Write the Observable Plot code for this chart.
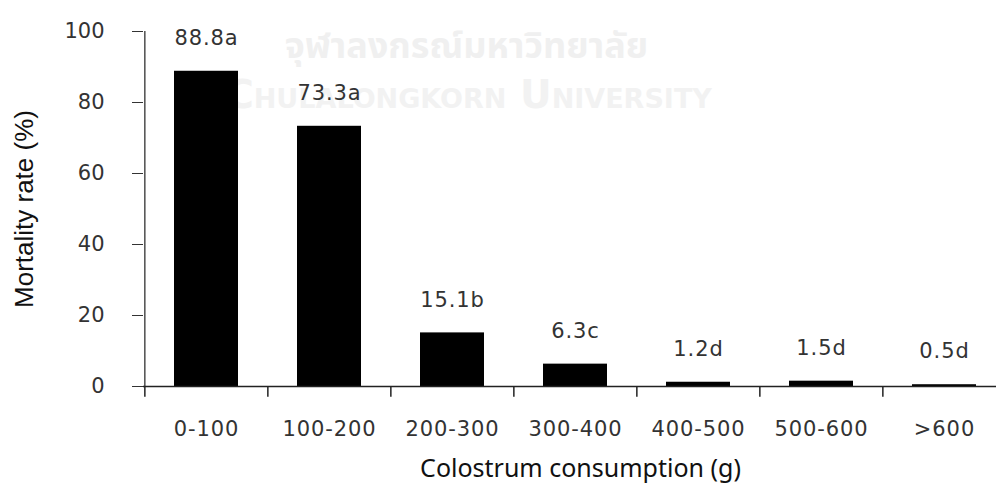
<!DOCTYPE html>
<html>
<head>
<meta charset="utf-8">
<script src="https://cdn.jsdelivr.net/npm/d3@7"></script>
<script src="https://cdn.jsdelivr.net/npm/@observablehq/plot@0.6"></script>
<style>
  html, body { margin: 0; padding: 0; background: #fff; }
  #chart { width: 996px; height: 495px; overflow: hidden; }
  .num text { letter-spacing: 0.9px; }
</style>
</head>
<body>
<div id="chart"></div>
<script>
const categories = ["0-100", "100-200", "200-300", "300-400", "400-500", "500-600", ">600"];
const mortality = [88.8, 73.3, 15.1, 6.3, 1.2, 1.5, 0.5];
const letters = ["a", "a", "b", "c", "d", "d", "d"];
const yTicks = [0, 20, 40, 60, 80, 100];
const xTitle = "Colostrum consumption (g)";
const yTitle = "Mortality rate (%)";
const watermark = ["จุฬาลงกรณ์มหาวิทยาลัย", "Chulalongkorn University"];

const data = categories.map((c, i) => ({cat: c, value: mortality[i], label: mortality[i].toFixed(1) + letters[i]}));

const W = 996, H = 495;
const mLeft = 143, xEnd = 1006;
const mTop = 31, yBase = 386;
const step = (xEnd - mLeft) / categories.length;
const textColor = "#333";
const numFont = "DejaVu Sans, Verdana, sans-serif";

const chart = Plot.plot({
  width: W,
  height: H,
  marginLeft: mLeft,
  marginRight: W - xEnd,
  marginTop: mTop,
  marginBottom: H - yBase,
  style: {background: "transparent", overflow: "visible"},
  x: {type: "band", domain: categories, range: [mLeft, xEnd], paddingInner: 0.48, paddingOuter: 0.24, align: 0.5},
  y: {domain: [0, 100], range: [yBase, mTop]},
  marks: [
    Plot.text([watermark[0]], {frameAnchor: "top-left", textAnchor: "middle", lineAnchor: "middle", dx: 466 - mLeft, dy: 46 - mTop, text: d => d, fontSize: 36, fontWeight: "bold", fill: "#f0f0f0", fontFamily: "Noto Sans Thai, Loma, Garuda, sans-serif"}),
    Plot.text([watermark[1]], {frameAnchor: "top-left", textAnchor: "middle", lineAnchor: "middle", dx: 468 - mLeft, dy: 95 - mTop, text: d => d, fontSize: 39, fontWeight: "bold", fontVariant: "small-caps", fill: "#f2f2f2", fontFamily: "DejaVu Sans, sans-serif"}),
    Plot.barY(data, {x: "cat", y: "value", fill: "#000"}),
    Plot.text(data, {x: "cat", y: "value", text: "label", dy: -33, fontSize: 21, fill: textColor, fontFamily: numFont, className: "num"}),
    Plot.axisY({ticks: yTicks, tickSize: 11, tickPadding: 28, fontSize: 21, fill: textColor, stroke: "#333", fontFamily: numFont, label: null}),
    Plot.axisX({tickSize: 0, tickPadding: 35, fontSize: 21, fill: textColor, fontFamily: numFont, label: null, className: "num"}),
    Plot.ruleX(categories, {x: d => d, dx: -step / 2, y1: 0, y2: -3, stroke: "#222", strokeWidth: 1.5}),
    Plot.ruleY([0], {stroke: "#222", strokeWidth: 1.5}),
    Plot.ruleX([categories[0]], {x: d => d, dx: -step / 2, stroke: "#222", strokeWidth: 1.2}),
    Plot.text([xTitle], {frameAnchor: "bottom", lineAnchor: "middle", dx: 580 - (mLeft + xEnd) / 2, dy: 468 - yBase, text: d => d, fontSize: 25, fill: "#111", fontFamily: "Noto Sans, DejaVu Sans, sans-serif"}),
    Plot.text([yTitle], {frameAnchor: "left", textAnchor: "middle", lineAnchor: "middle", dx: 24 - mLeft, text: d => d, rotate: -90, fontSize: 26, fill: "#111", fontFamily: "Liberation Sans, Arial, sans-serif"})
  ]
});
document.getElementById("chart").appendChild(chart);
</script>
</body>
</html>
